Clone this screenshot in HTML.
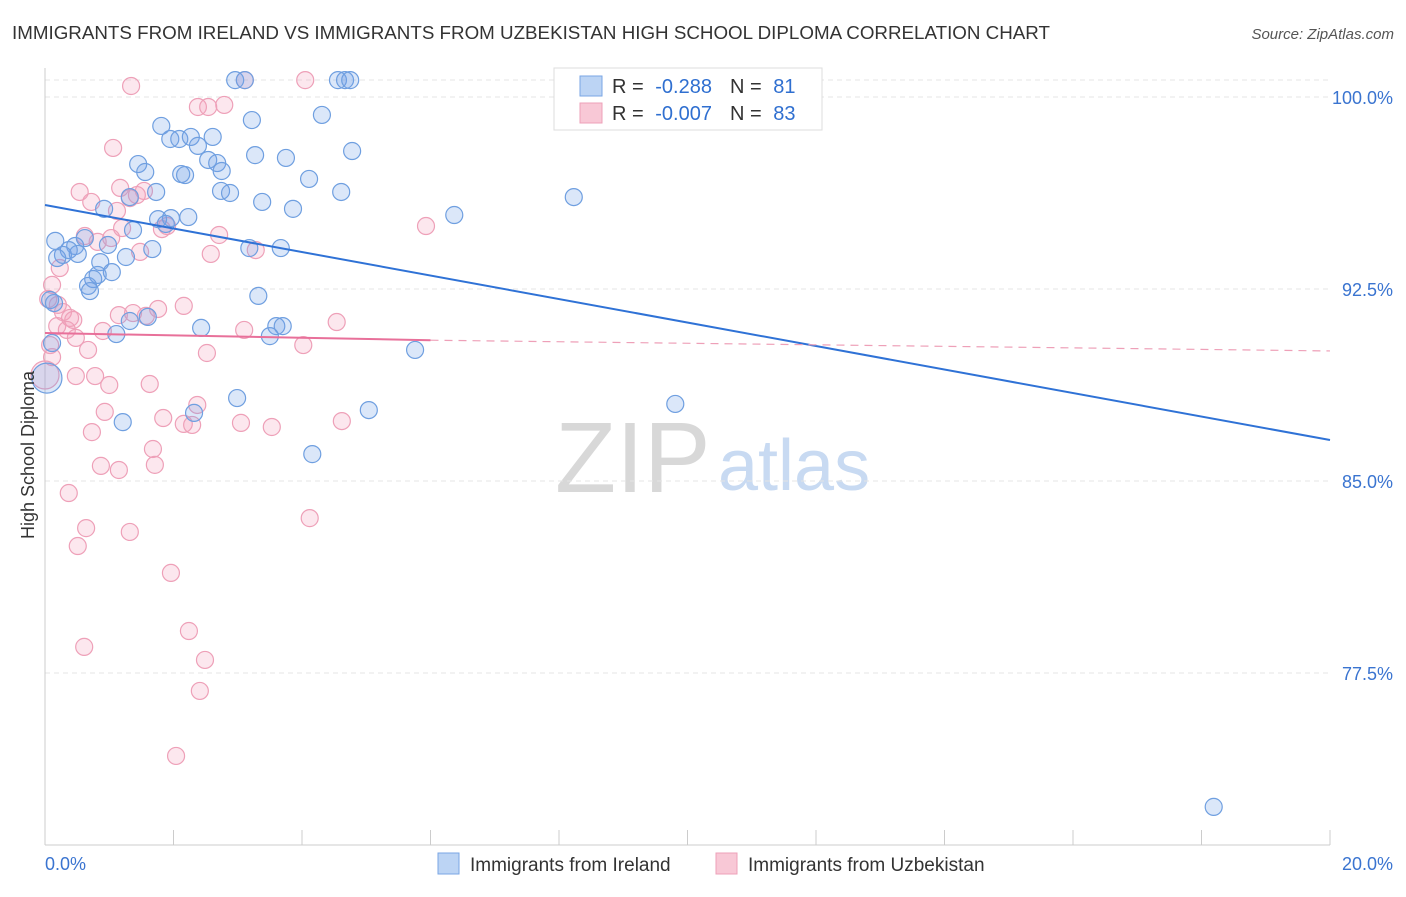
<!DOCTYPE html>
<html><head><meta charset="utf-8"><style>
body{margin:0;background:#fff;font-family:"Liberation Sans",sans-serif;}
svg text{font-family:"Liberation Sans",sans-serif;}
</style></head><body>
<svg id="chart" width="1406" height="892" xmlns="http://www.w3.org/2000/svg">
<text x="12" y="39" font-size="18" fill="#333" textLength="1038" lengthAdjust="spacingAndGlyphs">IMMIGRANTS FROM IRELAND VS IMMIGRANTS FROM UZBEKISTAN HIGH SCHOOL DIPLOMA CORRELATION CHART</text>
<text x="1394" y="39" font-size="15" fill="#555" text-anchor="end" font-style="italic">Source: ZipAtlas.com</text>
<g>
<text x="555" y="492" font-size="100" fill="#d8d8d8" font-family="Liberation Serif">ZIP</text>
<text x="718" y="490" font-size="72" fill="#c8daf2">atlas</text>
</g>
<g id="grid"></g><g id="axes"></g><g id="points"></g><g id="trends"></g>
<g>
<rect x="554" y="68" width="268" height="62" fill="#fff" stroke="#ddd"/>
<rect x="580" y="76" width="22" height="20" fill="#bcd4f4" stroke="#7aa6e4"/>
<rect x="580" y="103" width="22" height="20" fill="#f8c8d6" stroke="#eea0b8"/>
<text x="612" y="93" font-size="20" fill="#333">R = <tspan fill="#2f6fd0" dx="6">-0.288</tspan><tspan dx="18">N = </tspan><tspan fill="#2f6fd0" dx="6">81</tspan></text>
<text x="612" y="120" font-size="20" fill="#333">R = <tspan fill="#2f6fd0" dx="6">-0.007</tspan><tspan dx="18">N = </tspan><tspan fill="#2f6fd0" dx="6">83</tspan></text>
</g>
<g>
<rect x="438" y="853" width="21" height="21" fill="#bcd4f4" stroke="#7aa6e4"/>
<text x="470" y="871" font-size="19" fill="#333">Immigrants from Ireland</text>
<rect x="716" y="853" width="21" height="21" fill="#f8c8d6" stroke="#eea0b8"/>
<text x="748" y="871" font-size="19" fill="#333">Immigrants from Uzbekistan</text>
</g>
<text x="34" y="455" font-size="18" fill="#333" transform="rotate(-90 34 455)" text-anchor="middle">High School Diploma</text>
</svg>
<script>
const yTicks=[100,92.5,85,77.5];
const yTickLabels=["100.0%","92.5%","85.0%","77.5%"];
const xTicks=[0,2,4,6,8,10,12,14,16,18,20];
const xEndLabels=["0.0%","20.0%"];
const irelandX=[2.96,3.11,4.56,4.67,4.75,4.31,3.22,1.81,1.95,2.09,2.27,2.61,2.38,3.27,3.75,4.78,1.45,1.56,2.54,2.68,2.75,2.12,2.18,4.11,2.74,2.88,1.73,4.61,3.38,3.86,6.37,8.23,1.32,0.92,1.76,1.96,2.23,1.88,1.37,0.16,0.47,0.37,0.28,0.51,0.19,0.62,0.98,1.67,3.18,3.67,1.26,0.86,1.04,0.82,0.75,0.67,0.70,3.32,2.43,1.32,1.60,1.11,3.60,3.70,3.50,5.76,0.11,2.99,1.21,2.32,5.04,9.81,4.16,11.16,18.19,0.08,0.14,0.03];
const irelandY=[100.66,100.66,100.66,100.66,100.66,99.30,99.10,98.87,98.36,98.36,98.44,98.44,98.09,97.73,97.62,97.89,97.38,97.07,97.54,97.42,97.11,96.99,96.95,96.80,96.33,96.25,96.29,96.29,95.90,95.63,95.39,96.09,96.09,95.63,95.23,95.27,95.31,95.04,94.80,94.38,94.18,94.02,93.83,93.87,93.71,94.49,94.22,94.06,94.10,94.10,93.75,93.55,93.16,93.05,92.89,92.62,92.42,92.23,90.98,91.25,91.41,90.74,91.05,91.05,90.66,90.12,90.39,88.24,87.30,87.66,87.77,88.01,86.05,99.06,72.27,92.07,91.95,89.02];
const uzbekX=[1.34,3.11,4.05,2.38,2.79,2.54,1.06,0.54,0.72,1.17,1.54,1.43,1.32,1.12,1.20,1.03,0.82,0.62,1.82,1.90,1.48,2.71,2.58,3.28,5.93,0.23,0.11,0.05,0.20,0.28,0.39,0.44,0.19,0.34,0.48,0.08,0.11,0.90,1.15,1.37,1.57,1.76,2.16,3.10,4.54,4.02,2.52,0.67,0.48,0.78,1.00,1.63,0.93,0.73,1.84,2.37,2.16,2.29,3.05,3.53,4.62,1.68,0.87,1.15,1.71,0.37,0.64,0.51,1.32,4.12,1.96,2.24,0.61,2.49,2.41,2.04,0.00];
const uzbekY=[100.43,100.66,100.66,99.61,99.69,99.61,98.01,96.29,95.90,96.45,96.33,96.17,96.05,95.55,94.88,94.49,94.34,94.57,94.84,94.96,93.95,94.61,93.87,94.02,94.96,93.32,92.66,92.11,91.88,91.60,91.37,91.29,91.05,90.90,90.59,90.31,89.84,90.86,91.48,91.56,91.45,91.72,91.84,90.90,91.21,90.31,90.00,90.12,89.10,89.10,88.75,88.79,87.70,86.91,87.46,87.97,87.23,87.19,87.27,87.11,87.34,86.25,85.59,85.43,85.63,84.53,83.16,82.46,83.01,83.55,81.41,79.14,78.52,78.01,76.80,74.26,89.14];
const irelandTrend=[[0,95.78],[20,86.6]];
const uzbekTrend=[[0,90.78],[6,90.5],[20,90.08]];
const NS="http://www.w3.org/2000/svg";
const X=v=>45+v*64.25, Y=v=>97+(100-v)*25.6;
function mk(t,a,p){const e=document.createElementNS(NS,t);for(const k in a)e.setAttribute(k,a[k]);p.appendChild(e);return e;}
const grid=document.getElementById('grid'),axes=document.getElementById('axes');
yTicks.forEach((t,i)=>{
 const l=mk('line',{x1:45,x2:1330,y1:Y(t),y2:Y(t),stroke:'#e4e4e4','stroke-dasharray':'5,4'},grid);
 
 
 const tx=mk('text',{x:1393,y:Y(t)+7,'font-size':18,fill:'#3a74d0','text-anchor':'end'},axes);
 tx.textContent=yTickLabels[i];
 
 
});
const gt=mk('line',{x1:45,x2:1330,y1:80,y2:80,stroke:'#e4e4e4','stroke-dasharray':'5,4'},grid);


const ya=mk('line',{x1:45,x2:45,y1:68,y2:845,stroke:'#ccc'},axes);


const xa=mk('line',{x1:45,x2:1330,y1:845,y2:845,stroke:'#ccc'},axes);


xTicks.forEach(t=>{
 const l=mk('line',{x1:X(t),x2:X(t),y1:830,y2:845,stroke:'#ccc'},axes);
 
 
});
const xl0=mk('text',{x:45,y:870,'font-size':18,fill:'#3a74d0'},axes);xl0.textContent=xEndLabels[0];


const xl1=mk('text',{x:1393,y:870,'font-size':18,fill:'#3a74d0','text-anchor':'end'},axes);xl1.textContent=xEndLabels[1];


const pts=document.getElementById('points');
uzbekX.forEach((x,i)=>{
 const c=mk('circle',{cx:X(x),cy:Y(uzbekY[i]),r:(i==uzbekX.length-1?14:8.5),fill:'rgba(244,160,188,0.25)',stroke:'#eea0b8','stroke-width':1.2},pts);
 
 
});
irelandX.forEach((x,i)=>{
 const c=mk('circle',{cx:X(x),cy:Y(irelandY[i]),r:(i==irelandX.length-1?15:8.5),fill:'rgba(110,160,232,0.25)',stroke:'#6f9fe0','stroke-width':1.2},pts);
 
 
});
const tr=document.getElementById('trends');
const bl=mk('line',{x1:X(irelandTrend[0][0]),y1:Y(irelandTrend[0][1]),x2:X(irelandTrend[1][0]),y2:Y(irelandTrend[1][1]),stroke:'#2f72d6','stroke-width':2},tr);


const pl=mk('line',{x1:X(uzbekTrend[0][0]),y1:Y(uzbekTrend[0][1]),x2:X(uzbekTrend[1][0]),y2:Y(uzbekTrend[1][1]),stroke:'#e8709a','stroke-width':2},tr);


const pd=mk('line',{x1:X(uzbekTrend[1][0]),y1:Y(uzbekTrend[1][1]),x2:X(uzbekTrend[2][0]),y2:Y(uzbekTrend[2][1]),stroke:'#eea0b8','stroke-width':1.2,'stroke-dasharray':'8,6'},tr);


</script>
</body></html>
